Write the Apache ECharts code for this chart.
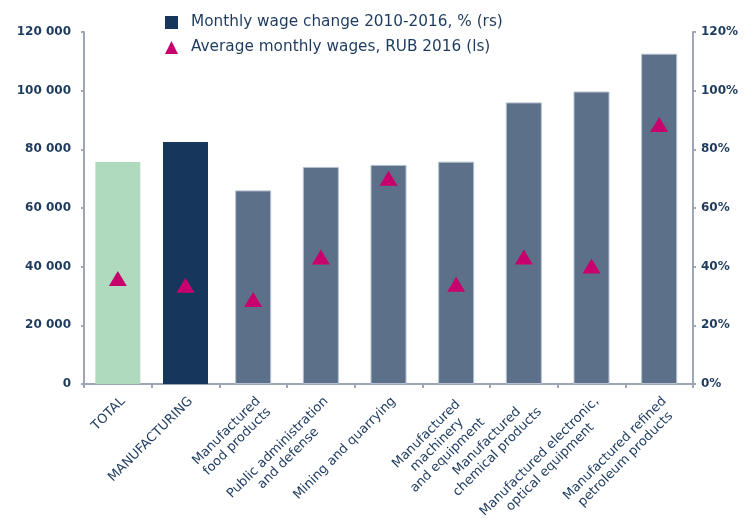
<!DOCTYPE html>
<html>
<head>
<meta charset="utf-8">
<script src="https://cdn.jsdelivr.net/npm/echarts@6/dist/echarts.min.js"></script>
<style>
  html, body { margin: 0; padding: 0; background: #fff; }
  #chart { width: 753px; height: 520px; }
</style>
</head>
<body>
<div id="chart"></div>
<script>
var categories = [
    'TOTAL',
    'MANUFACTURING',
    'Manufactured\nfood products',
    'Public administration\nand defense',
    'Mining and quarrying',
    'Manufactured\nmachinery\nand equipment',
    'Manufactured\nchemical products',
    'Manufactured electronic,\noptical equipment',
    'Manufactured refined\npetroleum products'
]
// % (right scale)
var wageChange = [75.7, 82.5, 66.0, 74.0, 74.7, 75.8, 96.0, 99.7, 112.6]
// RUB (left scale)
var avgWage = [36000, 33700, 28800, 43300, 70100, 34000, 43300, 40200, 88500]
var leftTicks = [0, 20000, 40000, 60000, 80000, 100000, 120000]
var rightTicks = [0, 20, 40, 60, 80, 100, 120]

var barName = 'Monthly wage change 2010-2016, % (rs)'
var dotName = 'Average monthly wages, RUB 2016 (ls)'

var txt = '#1d3a5f'
var axisGray = '#9ea6b6'
var font = 'DejaVu Sans'

// first two bars are wider and coloured differently
var wideBars = wageChange.map(function(v, i) {
    if (i == 0) return {value: v, itemStyle: {color: '#b0dabd'}}
    if (i == 1) return v
    return null
})
var narrowBars = wageChange.map(function(v, i) {
    return i < 2 ? null : v
})

var myChart = echarts.init(document.getElementById('chart'))

var option = {
    animation: false,
    textStyle: { fontFamily: font, color: txt },
    legend: {
        orient: 'vertical',
        left: 160,
        top: 9,
        itemGap: 8,
        itemWidth: 13,
        itemHeight: 13,
        textStyle: { fontFamily: font, fontSize: 15.3, lineHeight: 17, color: txt, padding: [0, 0, 0, 8] },
        data: [
            { name: barName, icon: 'rect', itemStyle: { color: '#17365c' } },
            { name: dotName, icon: 'triangle', itemStyle: { color: '#c8006e', opacity: 1 } }
        ]
    },
    grid: { left: 84, right: 60, top: 32, bottom: 136, outerBoundsMode: 'none' },
    xAxis: [
        {
            type: 'category',
            data: categories,
            axisLine: { lineStyle: { color: axisGray, width: 2 } },
            axisTick: { show: true, length: 4, lineStyle: { color: axisGray, width: 2 } },
            axisLabel: {
                interval: 0,
                rotate: 45,
                margin: 10,
                verticalAlign: 'top',
                formatter: function(v) {
                    return v.split('\n').map(function(l) { return '{c|' + l + '}' }).join('\n')
                },
                rich: {
                    c: { align: 'center', fontFamily: font, fontSize: 13, lineHeight: 15, color: txt }
                }
            }
        },
        {
            type: 'category',
            data: categories,
            show: false
        }
    ],
    yAxis: [
        {
            type: 'value',
            min: leftTicks[0],
            max: leftTicks[leftTicks.length - 1],
            interval: leftTicks[1] - leftTicks[0],
            position: 'left',
            splitLine: { show: false },
            axisLine: { show: true, lineStyle: { color: axisGray, width: 2 } },
            axisTick: { show: true, length: 3, lineStyle: { color: axisGray, width: 2 } },
            axisLabel: {
                margin: 13,
                fontFamily: font,
                fontSize: 12,
                fontWeight: 'bold',
                color: txt,
                formatter: function(v) {
                    return String(v).replace(/\B(?=(\d{3})+(?!\d))/g, ' ')
                }
            }
        },
        {
            type: 'value',
            min: rightTicks[0],
            max: rightTicks[rightTicks.length - 1],
            interval: rightTicks[1] - rightTicks[0],
            position: 'right',
            splitLine: { show: false },
            axisLine: { show: true, lineStyle: { color: axisGray, width: 2 } },
            axisTick: { show: true, length: 3, lineStyle: { color: axisGray, width: 2 } },
            axisLabel: {
                margin: 8,
                fontFamily: font,
                fontSize: 12,
                fontWeight: 'bold',
                color: txt,
                formatter: '{value}%'
            }
        }
    ],
    series: [
        {
            name: barName,
            type: 'bar',
            xAxisIndex: 0,
            yAxisIndex: 1,
            barWidth: 45,
            color: '#17365c',
            data: wideBars
        },
        {
            name: barName,
            type: 'bar',
            xAxisIndex: 1,
            yAxisIndex: 1,
            barWidth: 36,
            itemStyle: { color: '#5c7189', borderColor: '#b4c0cf', borderWidth: 1 },
            data: narrowBars
        },
        {
            name: dotName,
            type: 'scatter',
            xAxisIndex: 0,
            yAxisIndex: 0,
            symbol: 'triangle',
            symbolSize: [18, 15],
            color: '#c8006e',
            itemStyle: { opacity: 1 },
            z: 5,
            data: avgWage
        }
    ]
}

myChart.setOption(option)
</script>
</body>
</html>
